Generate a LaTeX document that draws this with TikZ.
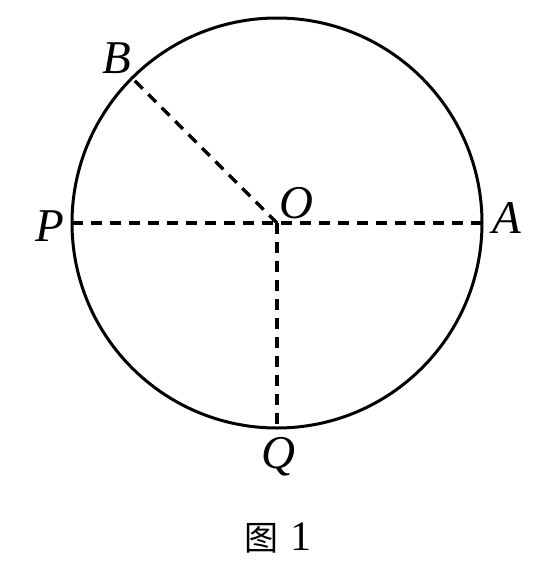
\documentclass[tikz,border=0pt]{standalone}
\usepackage{fontspec}
\usetikzlibrary{calc}
\setmainfont{Liberation Serif}
\newfontfamily\cjk{Noto Sans CJK SC}
\begin{document}
\begin{tikzpicture}[x=1pt,y=-1pt,
  lbl/.style={inner sep=0pt,font=\fontsize{47}{47}\selectfont\itshape},
  dashln/.style={line width=3.4pt,dash pattern=on 11pt off 8pt},
  rim/.style={line width=3pt}]
\useasboundingbox (0,0) rectangle (559,574);
\coordinate (O) at (277,223);
\draw[rim] (O) circle[radius=205];
\coordinate (A) at ($(O)+(205,0)$);
\coordinate (P) at ($(O)+(-205,0)$);
\coordinate (Q) at ($(O)+(0,205)$);
\coordinate (B) at ($(O)+(-144.96,-144.96)$);
\draw[dashln] (P) -- (A);
\draw[dashln] (O) -- (Q);
\draw[dashln] (O) -- (B);
\node[lbl] (lB) at (117,58) {B};
\node[lbl] (lP) at (50,226) {P};
\node[lbl] (lO) at (296,203) {O};
\node[lbl] (lA) at (507,218) {A};
\node[lbl] (lQ) at (278,457) {Q};
\node[inner sep=0pt] (cap) at (278,538) {{\cjk\fontsize{34}{34}\selectfont 图}\hspace{12pt}{\fontsize{42}{42}\selectfont 1}};
\end{tikzpicture}
\end{document}
